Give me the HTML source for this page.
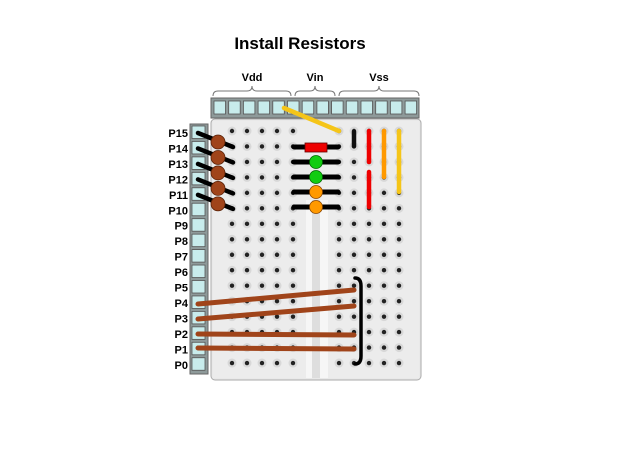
<!DOCTYPE html>
<html><head><style>body{margin:0;background:#fff}svg{display:block}</style></head><body>
<svg width="620" height="465" viewBox="0 0 620 465" xmlns="http://www.w3.org/2000/svg" font-family="Liberation Sans, sans-serif">
<defs>
<radialGradient id="h" cx="50%" cy="50%" r="50%"><stop offset="0" stop-color="#222"/><stop offset="0.45" stop-color="#333"/><stop offset="0.5" stop-color="#bbb"/><stop offset="1" stop-color="#e6e6e6" stop-opacity="0"/></radialGradient>
</defs>
<text x="300" y="49" font-size="17" font-weight="bold" text-anchor="middle">Install Resistors</text>
<g font-size="11" font-weight="bold" text-anchor="middle">
<text x="252" y="81">Vdd</text><text x="315" y="81">Vin</text><text x="379" y="81">Vss</text></g>
<g fill="none" stroke="#777" stroke-width="1">
<path d="M213 96 q0 -5 5 -5 h29 q5 0 5 -5 q0 5 5 5 h29 q5 0 5 5"/>
<path d="M295 96 q0 -5 5 -5 h10 q5 0 5 -5 q0 5 5 5 h10 q5 0 5 5"/>
<path d="M339 96 q0 -5 5 -5 h30 q5 0 5 -5 q0 5 5 5 h30 q5 0 5 5"/>
</g>
<!-- board -->
<rect x="211" y="119" width="210" height="261" rx="4" fill="#e9e9e9" stroke="#aaa"/>
<rect x="213" y="121" width="206" height="257" fill="#ececec"/>
<rect x="306" y="200" width="22" height="178" fill="#f6f6f6"/>
<rect x="312" y="200" width="8" height="178" fill="#dedede"/>
<!-- header strip -->
<rect x="211" y="98" width="208" height="20" fill="#8e9a9a" stroke="#666"/>
<g fill="#c8ecec" stroke="#555" stroke-width="0.8" id="hdr"></g>
<!-- left strip -->
<rect x="190" y="124" width="18" height="250" fill="#8e9a9a" stroke="#666"/>
<g id="left" fill="#c8ecec" stroke="#555" stroke-width="0.8"></g>
<g id="labels" font-size="11" font-weight="bold" text-anchor="end"></g>
<g id="holes" fill="#222"></g>
<!-- LED/resistor leads at centre -->
<g stroke="#000" stroke-width="5" stroke-linecap="round">
<line x1="294" y1="147" x2="338" y2="147"/><line x1="294" y1="162" x2="338" y2="162"/>
<line x1="294" y1="177" x2="338" y2="177"/><line x1="294" y1="192" x2="338" y2="192"/>
<line x1="294" y1="207" x2="338" y2="207"/>
</g>
<rect x="305" y="143" width="22" height="9" fill="#e00" stroke="#600" stroke-width="0.8"/>
<circle cx="316" cy="162" r="6.5" fill="#1c1" stroke="#060" stroke-width="0.8"/>
<circle cx="316" cy="177" r="6.5" fill="#1c1" stroke="#060" stroke-width="0.8"/>
<circle cx="316" cy="192" r="6.5" fill="#f90" stroke="#840" stroke-width="0.8"/>
<circle cx="316" cy="207" r="6.5" fill="#f90" stroke="#840" stroke-width="0.8"/>
<!-- power wires -->
<g stroke-linecap="round" stroke-width="4.5">
<line x1="284" y1="108" x2="339" y2="131" stroke="#f5c518"/>
<line x1="354" y1="132" x2="354" y2="146" stroke="#111"/>
<line x1="369" y1="131" x2="369" y2="162" stroke="#e00"/>
<line x1="369" y1="172" x2="369" y2="207" stroke="#e00"/>
<line x1="384" y1="131" x2="384" y2="177" stroke="#f90"/>
<line x1="399" y1="131" x2="399" y2="192" stroke="#f5c518"/>
</g>
<!-- resistors -->
<g id="res"></g>
<!-- brown wires -->
<g stroke="#a0441a" stroke-width="5" stroke-linecap="round">
<line x1="198" y1="304" x2="354" y2="290"/>
<line x1="198" y1="319" x2="354" y2="306"/>
<line x1="198" y1="334" x2="354" y2="335"/>
<line x1="198" y1="348" x2="354" y2="349"/>
</g>
<path d="M355 278 q6 0 6 8 v70 q0 8 -6 8" fill="none" stroke="#000" stroke-width="3.5" stroke-linecap="round"/>
<script>
var ns="http://www.w3.org/2000/svg";
function mk(p,t,a){var e=document.createElementNS(ns,t);for(var k in a)e.setAttribute(k,a[k]);document.getElementById(p).appendChild(e);return e;}
for(var i=0;i<14;i++)mk("hdr","rect",{x:214+i*14.7,y:101,width:11.5,height:13});
for(var i=0;i<16;i++){var y=126+i*15.45;mk("left","rect",{x:192,y:y,width:13,height:12.5});
var t=mk("labels","text",{x:188,y:y+11});t.textContent="P"+(15-i);}
var lx=[232,247,262,277,293],rx=[339,354,369,384,399];
for(var r=0;r<16;r++){var y=131+r*15.47;
lx.forEach(function(x){if(!(r==0&&x==293&&false)){mk("holes","circle",{cx:x,cy:y,r:4.5,fill:"#d8d8d8"});mk("holes","circle",{cx:x,cy:y,r:2.2,fill:"#222"});}});
rx.forEach(function(x){mk("holes","circle",{cx:x,cy:y,r:4.5,fill:"#d8d8d8"});mk("holes","circle",{cx:x,cy:y,r:2.2,fill:"#222"});});}
for(var i=0;i<5;i++){var y=133+i*15.47;
mk("res","line",{x1:198,y1:y,x2:233,y2:y+14,stroke:"#000","stroke-width":4.5,"stroke-linecap":"round"});
mk("res","circle",{cx:218,cy:y+9,r:7,fill:"#a0441a",stroke:"#5a2208","stroke-width":0.8});}
</script>
</svg>
</body></html>
